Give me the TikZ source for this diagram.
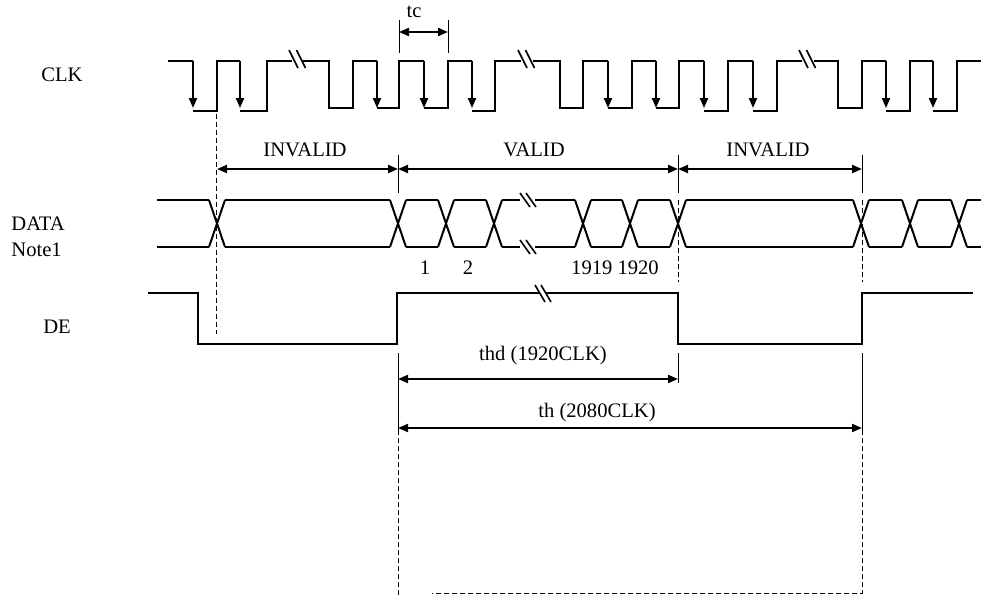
\documentclass[tikz,border=0pt]{standalone}
\usepackage{fontspec}
\setmainfont{Liberation Serif}
\usetikzlibrary{arrows.meta}

\begin{document}
\begin{tikzpicture}[x=0.5pt,y=-0.5pt,
                    sig/.style={line width=1pt},
                    clkedge/.style={line width=1pt,-{Triangle[length=5pt,width=4pt]}},
                    dimarrow/.style={line width=1pt,{Triangle[length=5pt,width=4pt]}-{Triangle[length=5pt,width=4pt]}},
                    edgeline/.style={line width=0.5pt},
                    guide/.style={line width=0.5pt,dash pattern=on 2.5pt off 1.5pt},
                    brk/.style={line width=0.8pt},
                    lbl/.style={font=\fontsize{10.3}{13}\selectfont,inner sep=0pt}]
                    \useasboundingbox (0,0) rectangle (982,595);
                    % signal names
                    \node[lbl] (clk) at (62,75) {CLK};
                    \node[lbl,anchor=west,align=left] (data) at (11,237) {DATA\\Note1};
                    \node[lbl] (de) at (57,327) {DE};
                    % CLK
                    \draw [sig] (168,61)--(193,61) (193,111)--(217,111)--(217,61)--(240,61)
                                (240,111)--(267,111)--(267,61)--(292,61)
                                (303,61)--(329,61)--(329,108)--(353,108)--(353,61)--(377,61)
                                (377,108)--(399,108)--(399,61)--(424,61)
                                (424,108)--(448,108)--(448,61)--(472,61)
                                (472,111)--(495,111)--(495,61)--(521,61)
                                (533,61)--(560,61)--(560,108)--(583,108)--(583,61)--(608,61)
                                (608,108)--(632,108)--(632,61)--(656,61)
                                (656,108)--(679,108)--(679,61)--(704,61)
                                (704,111)--(728,111)--(728,61)--(753,61)
                                (753,111)--(777,111)--(777,61)--(802,61)
                                (814,61)--(838,61)--(838,108)--(862,108)--(862,61)--(886,61)
                                (886,111)--(910,111)--(910,61)--(933,61)
                                (933,111)--(957,111)--(957,61)--(981,61);
                    \foreach \x in {193,240,377,424,472,608,656,704,753,886,933}
                        \draw [clkedge] (\x,61)--(\x,108);
                    \foreach \x in {289,518,799}
                        \draw [brk] (\x,50)--++(9,18) (\x+7.5,50)--++(9,18);
                    % tc
                    \coordinate (tcL) at (399,32);
                    \coordinate (tcR) at (448,32);
                    \draw [edgeline] (399,20)--(399,53) (448,20)--(448,53);
                    \draw [dimarrow] (tcL)--(tcR);
                    \node[lbl] (tc) at (414,12) {tc};
                    % INVALID / VALID
                    \coordinate (invS) at (217,169);
                    \coordinate (valS) at (398,169);
                    \coordinate (valE) at (678,169);
                    \coordinate (invE) at (862,169);
                    \draw [edgeline] (398,155)--(398,193) (678,155)--(678,193) (862,155)--(862,193);
                    \draw [dimarrow] (invS)--(valS);
                    \draw [dimarrow] (valS)--(valE);
                    \draw [dimarrow] (valE)--(invE);
                    \node[lbl] (inv1) at (305,150) {INVALID};
                    \node[lbl] (val) at (534,150) {VALID};
                    \node[lbl] (inv2) at (768,150) {INVALID};
                    % DATA
                    \foreach \c in {217,398,446,494,583,630,678,861,910,959}
                        \draw [sig] (\c-8,200)--(\c+8,247) (\c-8,247)--(\c+8,200);
                    \foreach \a/\b in {157/209,225/390,406/438,454/486,502/520,535/575,591/622,638/670,686/853,869/902,918/951,967/981}
                        \draw [sig] (\a,200)--(\b,200) (\a,247)--(\b,247);
                    \draw [brk] (520,193)--(530,207) (526,193)--(536,207)
                                (520,240)--(530,254) (526,240)--(536,254);
                    \node[lbl] (n1) at (425,268) {1};
                    \node[lbl] (n2) at (468,268) {2};
                    \node[lbl] (nlast) at (615,268) {1919 1920};
                    % DE
                    \draw [sig] (148,293)--(198,293)--(198,344)--(397,344)--(397,293)--(540,293)
                                (546,293)--(678,293)--(678,344)--(862,344)--(862,293)--(973,293);
                    \draw [brk] (535,285)--(545,302) (541,285)--(551,302);
                    % guides
                    \draw [guide] (216.5,114)--(216.5,334);
                    \draw [guide] (678,200)--(678,282) (862,200)--(862,282);
                    \draw [edgeline] (398,353)--(398,430) (678,353)--(678,383) (862,353)--(862,430);
                    \draw [guide] (398,430)--(398,595) (862,430)--(862,593)--(432,593);
                    % thd / th
                    \coordinate (thdL) at (398,379);
                    \coordinate (thdR) at (678,379);
                    \coordinate (thL) at (398,428);
                    \coordinate (thR) at (862,428);
                    \draw [dimarrow] (thdL)--(thdR);
                    \draw [dimarrow] (thL)--(thR);
                    \node[lbl] (thd) at (543,356) {thd (1920CLK)};
                    \node[lbl] (th) at (597,413) {th (2080CLK)};
                \end{tikzpicture}
\end{document}
